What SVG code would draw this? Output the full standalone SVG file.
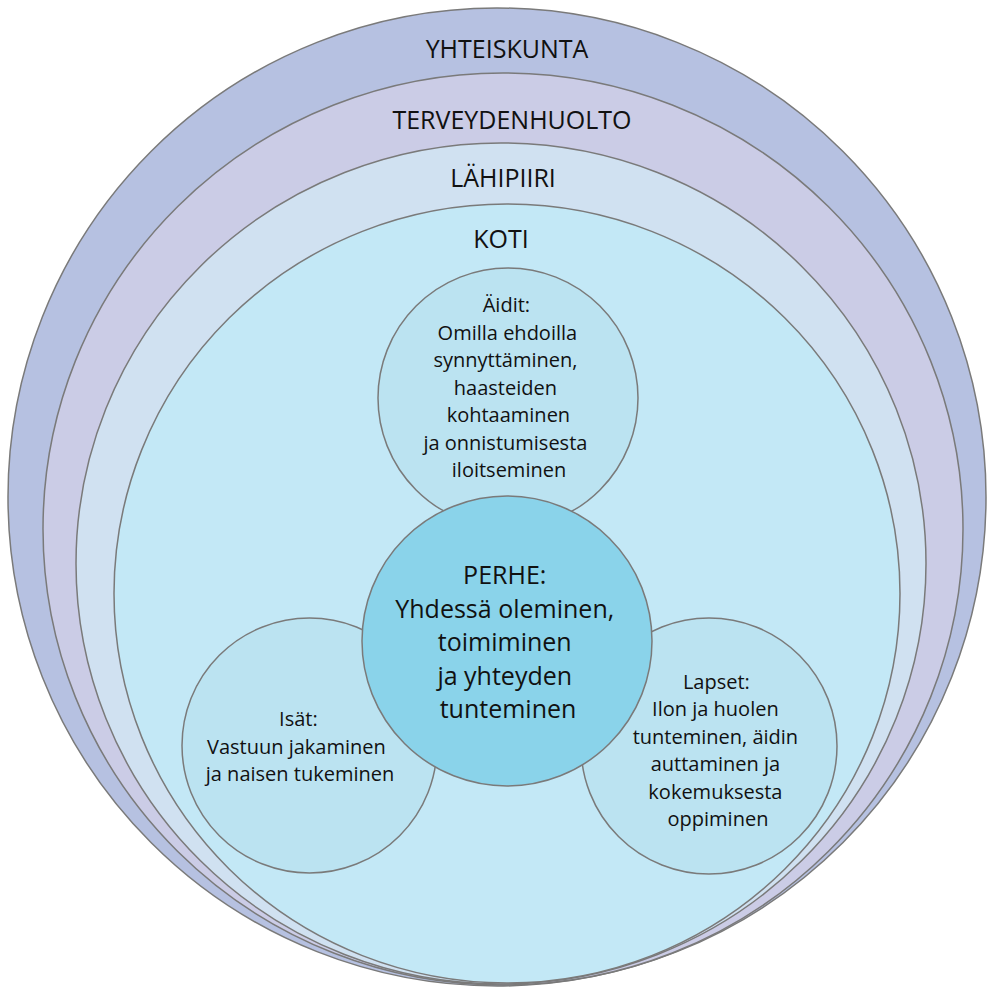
<svg xmlns="http://www.w3.org/2000/svg" width="988" height="990" viewBox="0 0 988 990">
<style>
.ring{stroke:#7a7a7a;stroke-width:1.5}
.lbl{font-family:"Open Sans","Noto Sans","Liberation Sans",sans-serif;fill:#111;text-anchor:middle}
.big{font-size:25px}
.mid{font-size:20px}
</style>
<rect width="988" height="990" fill="#ffffff"/>
<g id="yhteiskunta">
<ellipse class="ring" cx="497" cy="497" rx="489" ry="489" fill="#b6c1e1"/>
<text class="lbl big" x="507" y="58">YHTEISKUNTA</text>
</g>
<g id="terveydenhuolto">
<ellipse class="ring" cx="503" cy="529" rx="460" ry="456" fill="#cbcce6"/>
<text class="lbl big" x="512" y="129">TERVEYDENHUOLTO</text>
</g>
<g id="lahipiiri">
<ellipse class="ring" cx="501" cy="563.5" rx="425" ry="420.5" fill="#d0e1f1"/>
<text class="lbl big" x="503" y="187">LÄHIPIIRI</text>
</g>
<g id="koti">
<ellipse class="ring" cx="507" cy="593.5" rx="393" ry="389.5" fill="#c3e8f6"/>
<text class="lbl big" x="501" y="248">KOTI</text>
</g>
<g id="aidit">
<circle class="ring" cx="508" cy="398" r="130" fill="#bbe3f1"/>
<text class="lbl mid" x="509">
<tspan x="509" y="312">Äidit:</tspan>
<tspan x="510" y="339.5">Omilla ehdoilla</tspan>
<tspan x="508" y="367">synnyttäminen,</tspan>
<tspan x="508" y="394.5">haasteiden</tspan>
<tspan x="511" y="422">kohtaaminen</tspan>
<tspan x="508" y="449.5">ja onnistumisesta</tspan>
<tspan x="509" y="477">iloitseminen</tspan>
</text>
</g>
<g id="isat">
<circle class="ring" cx="309.5" cy="745.5" r="127.5" fill="#bbe3f1"/>
<text class="lbl mid">
<tspan x="301" y="726">Isät:</tspan>
<tspan x="299" y="753.5">Vastuun jakaminen</tspan>
<tspan x="300" y="781">ja naisen tukeminen</tspan>
</text>
</g>
<g id="lapset">
<circle class="ring" cx="709" cy="746" r="128" fill="#bbe3f1"/>
<text class="lbl mid">
<tspan x="719" y="688.5">Lapset:</tspan>
<tspan x="718" y="716">Ilon ja huolen</tspan>
<tspan x="718" y="743.5">tunteminen, äidin</tspan>
<tspan x="718" y="771">auttaminen ja</tspan>
<tspan x="718" y="798.5">kokemuksesta</tspan>
<tspan x="718" y="826">oppiminen</tspan>
</text>
</g>
<g id="perhe">
<circle class="ring" cx="507" cy="641" r="145" fill="#8ad3ea"/>
<text class="lbl big">
<tspan x="508" y="584">PERHE:</tspan>
<tspan x="508" y="617.5">Yhdessä oleminen,</tspan>
<tspan x="508" y="651">toimiminen</tspan>
<tspan x="508" y="684.5">ja yhteyden</tspan>
<tspan x="508" y="718">tunteminen</tspan>
</text>
</g>
<g id="connectors"></g>
</svg>
